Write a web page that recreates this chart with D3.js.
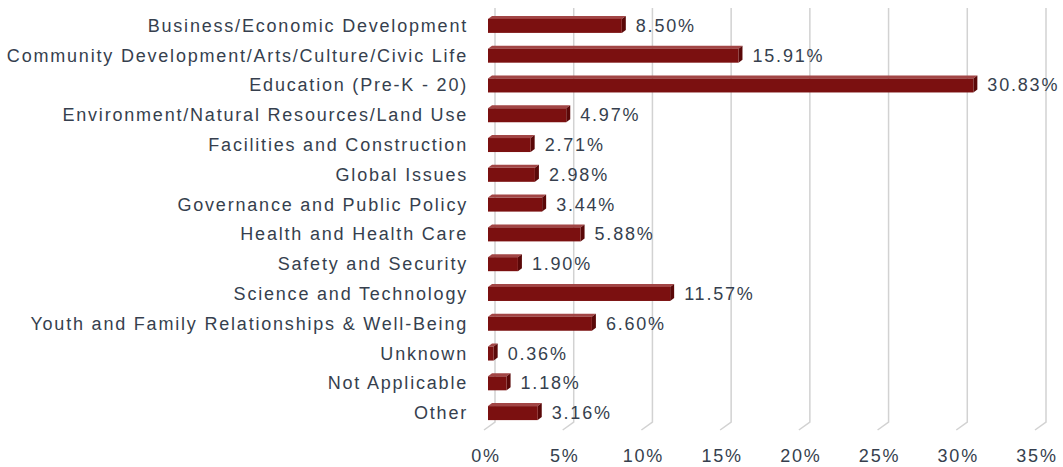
<!DOCTYPE html>
<html>
<head>
<meta charset="utf-8">
<script src="https://cdn.jsdelivr.net/npm/d3@7"></script>
<style>
  body { margin: 0; background: #fff; }
  text { font-family: "Liberation Sans", Arial, sans-serif; fill: #363f4e; font-size: 18px; letter-spacing: 1.8px; }
</style>
</head>
<body>
<div id="chart"></div>
<script>
// data
var categories = [
  'Business/Economic Development',
  'Community Development/Arts/Culture/Civic Life',
  'Education (Pre-K - 20)',
  'Environment/Natural Resources/Land Use',
  'Facilities and Construction',
  'Global Issues',
  'Governance and Public Policy',
  'Health and Health Care',
  'Safety and Security',
  'Science and Technology',
  'Youth and Family Relationships & Well-Being',
  'Unknown',
  'Not Applicable',
  'Other'
];
var values = [8.50, 15.91, 30.83, 4.97, 2.71, 2.98, 3.44, 5.88, 1.90, 11.57, 6.60, 0.36, 1.18, 3.16];
var ticks = [0, 5, 10, 15, 20, 25, 30, 35];

var width = 1063, height = 467;
var barDX = 4, barDY = 3;      // bar depth

var svg = d3.select('#chart').append('svg')
  .attr('width', width)
  .attr('height', height);

var x = d3.scaleLinear().domain([0, 35]).range([488, 1039]);
var y = d3.scaleBand().domain(categories).range([10, 427]).paddingInner(0.5).paddingOuter(0.25);

// gridlines on back wall with a floor diagonal
svg.append('g').selectAll('path')
  .data(ticks)
  .enter().append('path')
  .attr('d', function(d) {
    var bx = x(d) + 7;
    return 'M' + bx + ',8 L' + bx + ',422 L' + (x(d) - 4) + ',430';
  })
  .attr('fill', 'none')
  .attr('stroke', '#d2d2d2')
  .attr('stroke-width', 1.5);

// tick labels
svg.append('g').selectAll('text')
  .data(ticks)
  .enter().append('text')
  .attr('x', function(d) { return x(d) - 2; })
  .attr('y', 462)
  .attr('text-anchor', 'middle')
  .text(function(d) { return d + '%'; });

// bars
var bars = svg.append('g').selectAll('g')
  .data(values)
  .enter().append('g');

var bh = 14;
function barTop(i) { return y(categories[i]) + y.bandwidth() / 2 - bh / 2 + 1; }

bars.append('path') // top face
  .attr('d', function(d, i) {
    var x0 = x(0), x1 = x(d), t = barTop(i);
    return 'M' + x0 + ',' + t + ' L' + (x0 + barDX) + ',' + (t - barDY) +
      ' L' + (x1 + barDX) + ',' + (t - barDY) + ' L' + x1 + ',' + t + 'Z';
  })
  .attr('fill', '#a24545');

bars.append('path') // side face
  .attr('d', function(d, i) {
    var x1 = x(d), t = barTop(i);
    return 'M' + x1 + ',' + t + ' L' + (x1 + barDX) + ',' + (t - barDY) +
      ' L' + (x1 + barDX) + ',' + (t + bh - barDY) + ' L' + x1 + ',' + (t + bh) + 'Z';
  })
  .attr('fill', '#5a0808');

bars.append('rect') // front face
  .attr('x', x(0))
  .attr('y', function(d, i) { return barTop(i); })
  .attr('width', function(d) { return x(d) - x(0); })
  .attr('height', bh)
  .attr('fill', '#7b1010');

// value labels
bars.append('text')
  .attr('x', function(d) { return x(d) + barDX + 10; })
  .attr('y', function(d, i) { return barTop(i) + bh / 2 + 6; })
  .text(function(d) { return d.toFixed(2) + '%'; });

// category labels
svg.append('g').selectAll('text')
  .data(categories)
  .enter().append('text')
  .attr('x', 468)
  .attr('y', function(d) { return y(d) + y.bandwidth() / 2 + 7; })
  .attr('text-anchor', 'end')
  .text(function(d) { return d; });
</script>
</body>
</html>
